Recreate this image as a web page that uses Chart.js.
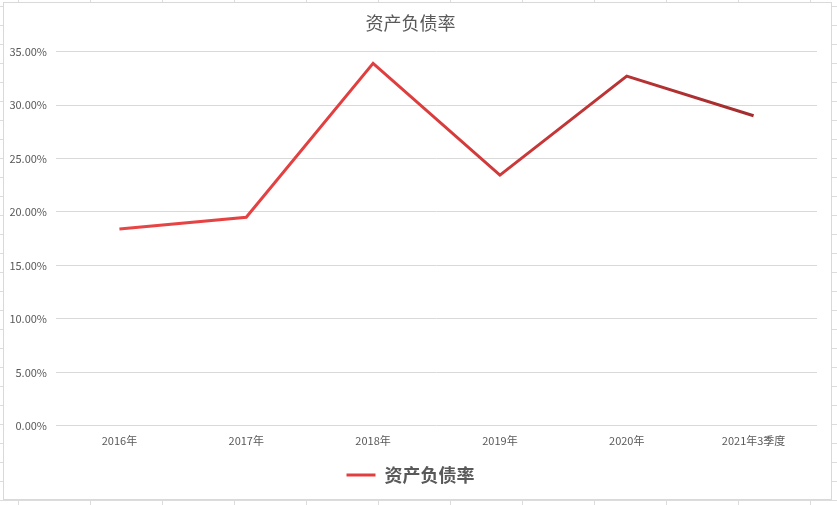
<!DOCTYPE html>
<html>
<head>
<meta charset="utf-8">
<script src="https://cdn.jsdelivr.net/npm/chart.js@4.4.0/dist/chart.umd.min.js"></script>
<style>
  html, body { margin: 0; padding: 0; }
  body {
    width: 837px; height: 505px; overflow: hidden; position: relative;
    background-color: #fff;
    background-image:
      linear-gradient(to right, #dcdcdc 1px, transparent 1px),
      linear-gradient(to bottom, #dcdcdc 1px, transparent 1px);
    background-size: 72px 19px;
    background-position: 18px 6px;
  }
  #box {
    position: absolute; left: 3px; top: 2px; width: 829px; height: 498px;
    background: #fff; box-sizing: border-box; border: 1px solid #d9d9d9;
  }
</style>
</head>
<body>
<div id="box"><canvas id="myChart" width="827" height="496"></canvas></div>
<script>
var categories = ["2016年", "2017年", "2018年", "2019年", "2020年", "2021年3季度"];
var ratio = [18.4, 19.5, 33.9, 23.45, 32.7, 29.0];
var seriesName = "资产负债率";

var cjk = "'Noto Sans CJK SC', 'Noto Sans', sans-serif";

function lineGradient(context) {
    var chart = context.chart;
    var area = chart.chartArea;
    if (!area) return '#e04242';
    var g = chart.ctx.createLinearGradient(area.left, 0, area.right, 0);
    g.addColorStop(0, '#ea4848');
    g.addColorStop(0.45, '#e03e3e');
    g.addColorStop(1, '#972a2c');
    return g;
}

var ctx = document.getElementById("myChart").getContext('2d');
var myChart = new Chart(ctx, {
    type: 'line',
    data: {
        labels: categories,
        datasets: [{
            label: seriesName,
            data: ratio,
            fill: false,
            tension: 0,
            borderColor: lineGradient,
            backgroundColor: lineGradient,
            borderWidth: 3,
            borderCapStyle: 'butt',
            borderJoinStyle: 'miter',
            pointRadius: 0,
            pointHoverRadius: 0
        }]
    },
    options: {
        responsive: false,
        animation: false,
        layout: { padding: { left: 0, right: 14, top: 0, bottom: 5 } },
        plugins: {
            title: {
                display: true,
                text: seriesName,
                color: '#595959',
                font: { family: cjk, size: 18, weight: 'normal' },
                padding: { top: 9, bottom: 18 }
            },
            legend: {
                position: 'bottom',
                labels: {
                    usePointStyle: true,
                    pointStyle: 'line',
                    pointStyleWidth: 29,
                    boxHeight: 3,
                    color: '#595959',
                    padding: 11,
                    font: { family: cjk, size: 18, weight: 'bold' }
                }
            },
            tooltip: { enabled: false }
        },
        scales: {
            x: {
                offset: true,
                grid: { display: false, drawTicks: false },
                border: { display: false },
                ticks: {
                    color: '#595959',
                    padding: 8,
                    maxRotation: 0,
                    font: { family: cjk, size: 11 }
                }
            },
            y: {
                min: 0,
                max: 35,
                afterFit: function (scale) { scale.width = 52; },
                grid: { color: '#d9d9d9', drawTicks: false },
                border: { display: false },
                ticks: {
                    stepSize: 5,
                    color: '#595959',
                    padding: 9,
                    font: { family: cjk, size: 11 },
                    callback: function (v) { return v.toFixed(2) + '%'; }
                }
            }
        }
    }
});
</script>
</body>
</html>
